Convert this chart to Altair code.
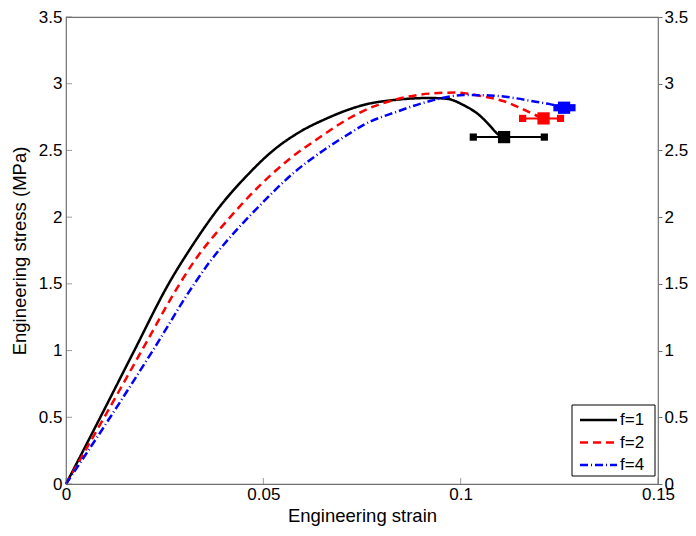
import altair as alt
import pandas as pd

series_names = ["f=1", "f=2", "f=4"]
series_colors = ["black", "red", "blue"]
series_dash = [[1, 0], [8, 5], [8, 3, 1, 3]]

x_f1 = [0, 0.0087, 0.0173, 0.0260, 0.0323, 0.0382, 0.0458, 0.0525, 0.0593, 0.0661,
        0.0720, 0.0753, 0.0838, 0.0922, 0.0965, 0.1007, 0.1049, 0.1074, 0.1091, 0.1105]
y_f1 = [0, 0.50, 1.00, 1.50, 1.80, 2.05, 2.31, 2.50, 2.64, 2.74,
        2.81, 2.84, 2.88, 2.893, 2.887, 2.84, 2.76, 2.686, 2.63, 2.60]

x_f2 = [0, 0.0097, 0.0192, 0.0288, 0.0325, 0.0407, 0.0492, 0.0568, 0.0644, 0.0720,
        0.0780, 0.0838, 0.0922, 0.0990, 0.1049, 0.1108, 0.1150, 0.1184, 0.1210]
y_f2 = [0, 0.50, 1.00, 1.50, 1.67, 1.97, 2.24, 2.44, 2.60, 2.745,
        2.83, 2.884, 2.926, 2.934, 2.909, 2.87, 2.82, 2.772, 2.74]

x_f4 = [0, 0.0112, 0.0220, 0.0325, 0.0365, 0.0416, 0.0492, 0.0576, 0.0652, 0.0720,
        0.0753, 0.0838, 0.0922, 0.1007, 0.1074, 0.1142, 0.1190, 0.1226, 0.1262]
y_f4 = [0, 0.50, 1.00, 1.50, 1.668, 1.85, 2.09, 2.33, 2.50, 2.63,
        2.69, 2.79, 2.87, 2.915, 2.912, 2.89, 2.865, 2.847, 2.822]

# end-point means with horizontal error bars
err_x = [0.1110, 0.1210, 0.1262]
err_y = [2.60, 2.74, 2.82]
err_lo = [0.1032, 0.1157, 0.1244]
err_hi = [0.1212, 0.1253, 0.1282]

x_ticks = [0, 0.05, 0.1, 0.15]
y_ticks = [0, 0.5, 1, 1.5, 2, 2.5, 3, 3.5]

rows = []
for name, xs, ys in zip(series_names, [x_f1, x_f2, x_f4], [y_f1, y_f2, y_f4]):
    for i, (xv, yv) in enumerate(zip(xs, ys)):
        rows.append({"series": name, "x": xv, "y": yv, "order": i})
curves = pd.DataFrame(rows)

errs = pd.DataFrame({"series": series_names, "x": err_x, "y": err_y,
                     "lo": err_lo, "hi": err_hi})
caps = pd.DataFrame({"series": series_names * 2, "x": err_lo + err_hi, "y": err_y * 2})
xt = pd.DataFrame({"v": x_ticks})
yt = pd.DataFrame({"v": y_ticks})
leg = pd.DataFrame({"series": series_names})

W, H = 592, 467
FONT = "Liberation Sans"
AXC = "#707070"

xscale = alt.Scale(domain=[0, 0.15], nice=False, zero=False)
yscale = alt.Scale(domain=[0, 3.5], nice=False, zero=False)
cscale = alt.Scale(domain=series_names, range=series_colors)
dscale = alt.Scale(domain=series_names, range=series_dash)

xaxis = alt.Axis(values=x_ticks, format="~g", title="Engineering strain", grid=False,
                 domain=False, ticks=False, labelPadding=2, labelFlush=False,
                 labelOverlap=False, titlePadding=4)
yaxis = alt.Axis(values=y_ticks, format="~g", title="Engineering stress (MPa)", grid=False,
                 domain=False, ticks=False, labelPadding=4, labelOverlap=False,
                 titlePadding=9)

X = alt.X("x:Q", scale=xscale, axis=xaxis)
Y = alt.Y("y:Q", scale=yscale, axis=yaxis)

lines = alt.Chart(curves).mark_line(strokeWidth=2.5, interpolate="monotone").encode(
    x=X, y=Y,
    color=alt.Color("series:N", scale=cscale, legend=None),
    strokeDash=alt.StrokeDash("series:N", scale=dscale, legend=None),
    order="order:Q",
)

bars = alt.Chart(errs).mark_rule(strokeWidth=2).encode(
    x=alt.X("lo:Q", scale=xscale), x2="hi:Q", y=alt.Y("y:Q", scale=yscale),
    color=alt.Color("series:N", scale=cscale, legend=None),
)
cap_pts = alt.Chart(caps).mark_square(size=52, opacity=1).encode(
    x=alt.X("x:Q", scale=xscale), y=alt.Y("y:Q", scale=yscale),
    color=alt.Color("series:N", scale=cscale, legend=None),
)
mid_pts = alt.Chart(errs).mark_square(size=150, opacity=1).encode(
    x=alt.X("x:Q", scale=xscale), y=alt.Y("y:Q", scale=yscale),
    color=alt.Color("series:N", scale=cscale, legend=None),
)

left_ticks = alt.Chart(yt).mark_tick(size=6, thickness=1, color=AXC).encode(
    y=alt.Y("v:Q", scale=yscale), x=alt.value(3))
bottom_ticks = alt.Chart(xt).mark_tick(size=6, thickness=1, color=AXC).encode(
    x=alt.X("v:Q", scale=xscale), y=alt.value(H - 3))

main = alt.layer(lines, bars, cap_pts, mid_pts, left_ticks, bottom_ticks)

right = alt.Chart(yt).mark_point(opacity=0).encode(
    y=alt.Y("v:Q", scale=yscale, axis=alt.Axis(
        orient="right", values=y_ticks, format="~g", title=None, grid=False,
        domain=False, ticks=True, tickSize=4, tickColor=AXC, labelPadding=2,
        labelOverlap=False)),
    x=alt.value(0),
)

# legend box (drawn by hand, MATLAB style)
leg_y = alt.Y("series:N", scale=alt.Scale(type="point", domain=series_names,
                                          range=[403, 448], padding=0), axis=None)
leg_box = alt.Chart(leg.head(1)).mark_rect(fill="white", stroke="black", strokeWidth=1).encode(
    x=alt.value(506), x2=alt.value(589), y=alt.value(388), y2=alt.value(459))
leg_lines = alt.Chart(leg).mark_rule(strokeWidth=2.5).encode(
    x=alt.value(514), x2=alt.value(551), y=leg_y,
    color=alt.Color("series:N", scale=cscale, legend=None),
    strokeDash=alt.StrokeDash("series:N", scale=dscale, legend=None),
)
leg_text = alt.Chart(leg).mark_text(align="left", baseline="middle", fontSize=17,
                                    font=FONT, color="black").encode(
    x=alt.value(554), y=leg_y, text="series:N")
legend = alt.layer(leg_box, leg_lines, leg_text)

chart = alt.layer(main, right, legend).resolve_scale(y="independent").properties(
    width=W, height=H,
    autosize=alt.AutoSizeParams(type="none"),
    padding={"left": 58, "top": 9, "right": 30, "bottom": 50},
).configure_view(stroke=AXC, strokeWidth=1.2).configure_axis(
    labelFont=FONT, titleFont=FONT, labelFontSize=17, titleFontSize=18.5,
    labelColor="black", titleColor="black", titleFontWeight="normal",
)

chart.save("out.html", embed_options={"renderer": "svg", "actions": False})
